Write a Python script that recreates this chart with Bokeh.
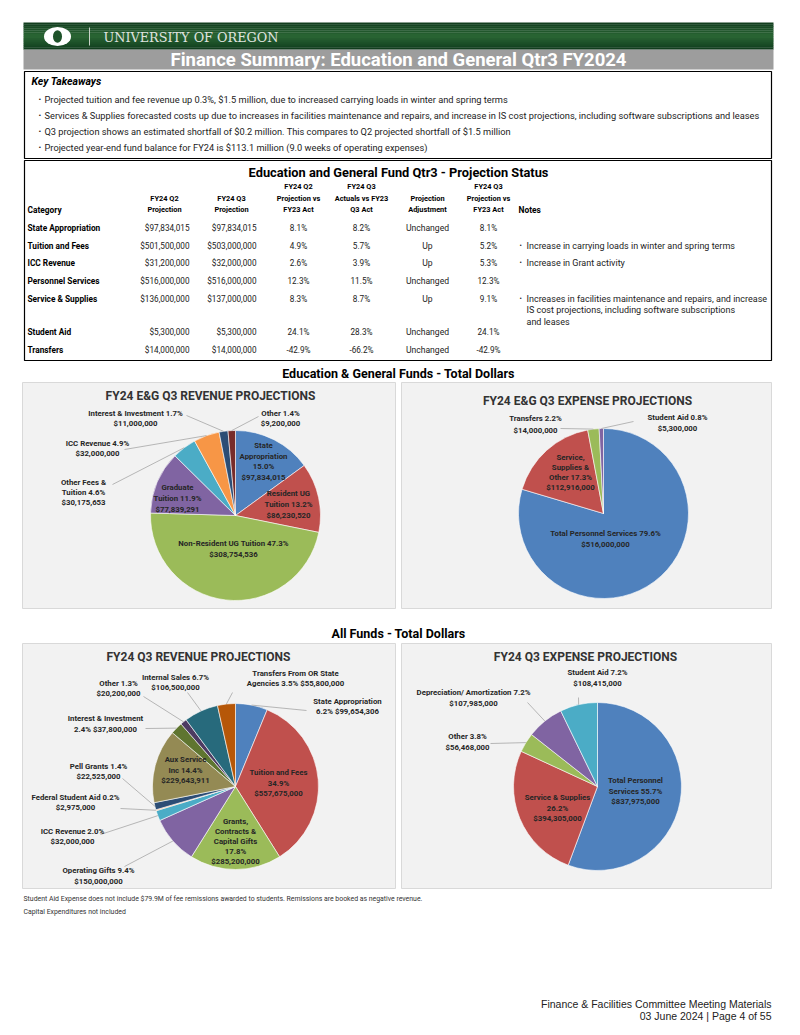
import math
from bokeh.plotting import figure
from bokeh.models import Range1d
from bokeh.core.properties import value
from bokeh.embed import file_html
from bokeh.resources import INLINE

# ------------------------------------------------------------------ data
page_title = "Finance Summary: Education and General Qtr3 FY2024"
takeaways = [
    "Projected tuition and fee revenue up 0.3%, $1.5 million, due to increased carrying loads in winter and spring terms",
    "Services & Supplies forecasted costs up due to increases in facilities maintenance and repairs, and increase in IS cost projections, including software subscriptions and leases",
    "Q3 projection shows an estimated shortfall of $0.2 million. This compares to Q2 projected shortfall of $1.5 million",
    "Projected year-end fund balance for FY24 is $113.1 million (9.0 weeks of operating expenses)",
]

table_title = "Education and General Fund Qtr3 - Projection Status"
table_headers = [
    ["Category"],
    ["FY24 Q2", "Projection"],
    ["FY24 Q3", "Projection"],
    ["FY24 Q2", "Projection vs", "FY23 Act"],
    ["FY24 Q3", "Actuals vs FY23", "Q3 Act"],
    ["Projection", "Adjustment"],
    ["FY24 Q3", "Projection vs", "FY23 Act"],
    ["Notes"],
]
categories = ["State Appropriation", "Tuition and Fees", "ICC Revenue", "Personnel Services",
              "Service & Supplies", "Student Aid", "Transfers"]
q2_projection = [97834015, 501500000, 31200000, 516000000, 136000000, 5300000, 14000000]
q3_projection = [97834015, 503000000, 32000000, 516000000, 137000000, 5300000, 14000000]
q2_vs_fy23 = [8.1, 4.9, 2.6, 12.3, 8.3, 24.1, -42.9]
q3_act_vs_fy23 = [8.2, 5.7, 3.9, 11.5, 8.7, 28.3, -66.2]
adjustment = ["Unchanged", "Up", "Up", "Unchanged", "Up", "Unchanged", "Unchanged"]
q3_vs_fy23 = [8.1, 5.2, 5.3, 12.3, 9.1, 24.1, -42.9]
notes = [
    [],
    ["Increase in carrying loads in winter and spring terms"],
    ["Increase in Grant activity"],
    [],
    ["Increases in facilities maintenance and repairs, and increase",
     "IS cost projections, including software subscriptions",
     "and leases"],
    [],
    [],
]

section_eg = "Education & General Funds - Total Dollars"
section_all = "All Funds - Total Dollars"

# E&G revenue pie
eg_rev_title = "FY24 E&G Q3 REVENUE PROJECTIONS"
eg_rev_values = [97834015, 86230520, 308754536, 77839291, 30175653, 32000000, 11000000, 9200000]
eg_rev_pct = [15.0, 13.2, 47.3, 11.9, 4.6, 4.9, 1.7, 1.4]
eg_rev_labels = [
    ["State", "Appropriation", "{p}", "{v}"],
    ["Resident UG", "Tuition {p}", "{v}"],
    ["Non-Resident UG Tuition {p}", "{v}"],
    ["Graduate", "Tuition {p}", "{v}"],
    ["Other Fees &", "Tuition {p}", "{v}"],
    ["ICC Revenue {p}", "{v}"],
    ["Interest & Investment {p}", "{v}"],
    ["Other {p}", "{v}"],
]

# E&G expense pie
eg_exp_title = "FY24 E&G Q3 EXPENSE PROJECTIONS"
eg_exp_values = [516000000, 112916000, 14000000, 5300000]
eg_exp_pct = [79.6, 17.3, 2.2, 0.8]
eg_exp_labels = [
    ["Total Personnel Services {p}", "{v}"],
    ["Service,", "Supplies &", "Other {p}", "{v}"],
    ["Transfers {p}", "{v}"],
    ["Student Aid {p}", "{v}"],
]

# All funds revenue pie
all_rev_title = "FY24 Q3 REVENUE PROJECTIONS"
all_rev_values = [99654306, 557675000, 285200000, 150000000, 32000000, 2975000, 22525000,
                  229643911, 37800000, 20200000, 106500000, 55800000]
all_rev_pct = [6.2, 34.9, 17.8, 9.4, 2.0, 0.2, 1.4, 14.4, 2.4, 1.3, 6.7, 3.5]
all_rev_labels = [
    ["State Appropriation", "{p} {v}"],
    ["Tuition and Fees", "{p}", "{v}"],
    ["Grants,", "Contracts &", "Capital Gifts", "{p}", "{v}"],
    ["Operating Gifts {p}", "{v}"],
    ["ICC Revenue {p}", "{v}"],
    ["Federal Student Aid {p}", "{v}"],
    ["Pell Grants {p}", "{v}"],
    ["Aux Service", "Inc {p}", "{v}"],
    ["Interest & Investment", "{p} {v}"],
    ["Other {p}", "{v}"],
    ["Internal Sales {p}", "{v}"],
    ["Transfers From OR State", "Agencies {p} {v}"],
]

# All funds expense pie
all_exp_title = "FY24 Q3 EXPENSE PROJECTIONS"
all_exp_values = [837975000, 394305000, 56468000, 107985000, 108415000]
all_exp_pct = [55.7, 26.2, 3.8, 7.2, 7.2]
all_exp_labels = [
    ["Total Personnel", "Services {p}", "{v}"],
    ["Service & Supplies", "{p}", "{v}"],
    ["Other {p}", "{v}"],
    ["Depreciation/ Amortization {p}", "{v}"],
    ["Student Aid {p}", "{v}"],
]

footnotes = [
    "Student Aid Expense does not include $79.9M of fee remissions awarded to students. Remissions are booked as negative revenue.",
    "Capital Expenditures not included",
]
footer = ["Finance & Facilities Committee Meeting Materials", "03 June 2024 | Page 4 of 55"]

# ------------------------------------------------------------------ styles / layout
PAGE_H = 1035
W, H = 784, 1027
FONT = "Roboto"
DARK = "#262626"
LEADER = "#A6A6A6"

COL6 = ["#4F81BD", "#C0504D", "#9BBB59", "#8064A2", "#4BACC6", "#F79646"]
eg_rev_colors = COL6 + ["#2C4D75", "#772C2A"]
eg_exp_colors = COL6[:4]
all_rev_colors = COL6 + ["#2C4D75", "#948A54", "#5F7530", "#4D3B62", "#276A7C", "#B65708"]
all_exp_colors = COL6[:5]

# label layout: (x, y of first line, line height, leader start or None)
eg_rev_layout = [
    (263, 445, 10.7, None), (288, 493, 11, None), (233, 543, 10.5, None), (177, 487, 11, None),
    (83, 482, 10, (112, 484)), (97, 443, 10, (124, 449)), (135, 413, 10, (186, 415)),
    (280, 413, 10, (258, 416)),
]
eg_exp_layout = [
    (605, 533, 10.5, None), (570, 457, 10, None), (535, 418, 12, (560, 428)),
    (677, 417, 10.5, (633, 421)),
]
all_rev_layout = [
    (347, 701, 10, (306, 710)), (278, 772, 10.5, None), (235, 821, 10, None),
    (98, 870, 11, (124, 866)), (72, 831, 10, (100, 834)), (75, 797, 10, (120, 808)),
    (98, 766, 10, (122, 778)), (185, 759, 10.5, None), (105, 718, 11, (145, 728)),
    (118, 683, 10, (143, 696)), (175, 677, 10, (187, 692)), (295, 673, 10, (232, 692)),
]
all_exp_layout = [
    (635, 780, 10.5, None), (557, 797, 10.5, None), (467, 736, 11, (490, 743)),
    (473, 692, 11, (527, 702)), (597, 672, 11, (578, 697)),
]


def Y(py):
    return PAGE_H - py


p = figure(width=W, height=H, x_range=Range1d(0, W), y_range=Range1d(PAGE_H - H, PAGE_H),
           x_axis_type=None, y_axis_type=None, toolbar_location=None, output_backend="svg",
           min_border=0, outline_line_color=None, background_fill_color="white",
           border_fill_color="white")
p.xgrid.visible = False
p.ygrid.visible = False

texts = {}


def T(x, y, s, size=8.0, style="normal", align="left", color="#000000", font=FONT):
    key = (size, style, align, color, font)
    d = texts.setdefault(key, dict(x=[], y=[], t=[]))
    d["x"].append(x)
    d["y"].append(Y(y))
    d["t"].append(s)


def box(l, r, t, b, fill=None, line=None, lw=1.0):
    p.quad(left=[l], right=[r], top=[Y(t)], bottom=[Y(b)],
           fill_color=fill if fill else None, fill_alpha=1 if fill else 0,
           line_color=line, line_width=lw)


# ------------------------------------------------------------------ header
def mix(c1, c2, t):
    a = [int(c1[i:i + 2], 16) for i in (1, 3, 5)]
    b = [int(c2[i:i + 2], 16) for i in (1, 3, 5)]
    return "#%02x%02x%02x" % tuple(int(round(a[k] + (b[k] - a[k]) * t)) for k in range(3))


g_top, g_bot, n_band = 22.0, 49.0, 14
for i in range(n_band):
    t = i / (n_band - 1)
    c = mix("#0f3a1c", "#2a6634", 1 - abs(2 * t - 1) * 0.9)
    y0 = g_top + (g_bot - g_top) * i / n_band
    y1 = g_top + (g_bot - g_top) * (i + 1) / n_band
    p.quad(left=[23], right=[773], top=[Y(y0)], bottom=[Y(y1) - 0.3], fill_color=c, line_color=None)

p.ellipse(x=[57], y=[Y(36)], width=[27], height=[19], fill_color="white", line_color=None)
p.ellipse(x=[57], y=[Y(36)], width=[9], height=[12.5], fill_color="#1d5229", line_color=None)
p.segment(x0=[89], y0=[Y(27)], x1=[89], y1=[Y(45)], line_color="#c8d2c8", line_width=1)
T(103, 36.5, "UNIVERSITY OF OREGON", 12.8, "normal", "left", "#e0e4e0", "DejaVu Serif")

box(23, 773, 49, 69, fill="#9d9d9d")
T(398, 59.5, page_title, 18.5, "bold", "center", "white")

# ------------------------------------------------------------------ key takeaways
box(24, 771, 71, 158, line="#000000", lw=1.2)
T(31, 80.5, "Key Takeaways", 10.5, "bold italic", "left", "#000000")
for i, s in enumerate(takeaways):
    yy = 99 + 16 * i
    T(38, yy, "\u2022", 8, "normal", "left", "#222222")
    T(44, yy, s, 9.25, "normal", "left", "#222222")

# ------------------------------------------------------------------ table
box(24, 771, 160, 360, line="#000000", lw=1.2)
T(398, 172, table_title, 12.8, "bold", "center", "#000000")
col_x = [27, 164, 231, 298, 361, 427, 488, 518]
col_align = ["left", "center", "center", "center", "center", "center", "center", "left"]
for c, lines in enumerate(table_headers):
    n = len(lines)
    for k, s in enumerate(lines):
        yy = 209 - (n - 1 - k) * 11.5
        sz = 8.4 if c in (0, 7) else 7.4
        T(col_x[c], yy, s, sz, "bold", col_align[c], "#000000")

row_y = [227, 245, 262, 280, 298, 331, 349]


def pct(v):
    return f"{v:.1f}%"


for r, cat in enumerate(categories):
    yy = row_y[r]
    T(27, yy, cat, 8.3, "bold", "left", "#000000")
    T(189, yy, f"${q2_projection[r]:,.0f}", 8.2, "normal", "right", "#222222")
    T(256, yy, f"${q3_projection[r]:,.0f}", 8.2, "normal", "right", "#222222")
    T(298, yy, pct(q2_vs_fy23[r]), 8.2, "normal", "center", "#222222")
    T(361, yy, pct(q3_act_vs_fy23[r]), 8.2, "normal", "center", "#222222")
    T(427, yy, adjustment[r], 8.6, "normal", "center", "#222222")
    T(488, yy, pct(q3_vs_fy23[r]), 8.2, "normal", "center", "#222222")
    for k, s in enumerate(notes[r]):
        if k == 0:
            T(519, yy, "\u2022", 7, "normal", "left", "#222222")
        T(526, yy + k * 11.5, s, 9.0, "normal", "left", "#222222")

# ------------------------------------------------------------------ pies
T(398, 373, section_eg, 12.5, "bold", "center", "#000000")
T(398, 633, section_all, 12.5, "bold", "center", "#000000")

box(22, 395, 382, 608, fill="#F2F2F2", line="#D9D9D9")
box(401, 771, 382, 608, fill="#F2F2F2", line="#D9D9D9")
box(22, 395, 643, 888, fill="#F2F2F2", line="#D9D9D9")
box(401, 771, 643, 888, fill="#F2F2F2", line="#D9D9D9")


def fmt_money(v):
    return f"${v:,.0f}"


def pie(cx, cy, r, values, pcts, colors, labels, layout, title, title_xy):
    total = float(sum(values))
    cum = [0.0]
    for v in values:
        cum.append(cum[-1] + v / total)
    starts = [math.pi / 2 - 2 * math.pi * cum[i + 1] for i in range(len(values))]
    ends = [math.pi / 2 - 2 * math.pi * cum[i] for i in range(len(values))]
    p.wedge(x=[cx] * len(values), y=[Y(cy)] * len(values), radius=r,
            start_angle=starts, end_angle=ends, direction="anticlock",
            fill_color=colors, line_color="white", line_width=0.6)
    T(title_xy[0], title_xy[1], title, 12, "bold", "center", "#333333")
    lx0, ly0, lx1, ly1 = [], [], [], []
    for i, lines in enumerate(labels):
        x, y, lh, lead = layout[i]
        for k, s in enumerate(lines):
            s = s.replace("{p}", pct(pcts[i])).replace("{v}", fmt_money(values[i]))
            T(x, y + k * lh, s, 7.8, "bold", "center", DARK)
        if lead is not None:
            mid = (cum[i] + cum[i + 1]) / 2 * 2 * math.pi
            ex = cx + r * math.sin(mid)
            ey = cy - r * math.cos(mid)
            lx0.append(lead[0]); ly0.append(Y(lead[1]))
            lx1.append(ex); ly1.append(Y(ey))
    if lx0:
        p.segment(x0=lx0, y0=ly0, x1=lx1, y1=ly1, line_color=LEADER, line_width=0.8)


pie(235, 515, 85, eg_rev_values, eg_rev_pct, eg_rev_colors, eg_rev_labels, eg_rev_layout,
    eg_rev_title, (210, 395))
pie(603, 513, 85, eg_exp_values, eg_exp_pct, eg_exp_colors, eg_exp_labels, eg_exp_layout,
    eg_exp_title, (587, 400))
pie(235, 786, 83, all_rev_values, all_rev_pct, all_rev_colors, all_rev_labels, all_rev_layout,
    all_rev_title, (198, 656))
pie(597, 786, 84, all_exp_values, all_exp_pct, all_exp_colors, all_exp_labels, all_exp_layout,
    all_exp_title, (585, 656))

# ------------------------------------------------------------------ footnotes / footer
T(23, 898, footnotes[0], 6.9, "normal", "left", "#333333")
T(23, 911, footnotes[1], 6.9, "normal", "left", "#333333")
T(771, 1003, footer[0], 10.5, "normal", "right", "#222222", "Liberation Sans")
T(771, 1015, footer[1], 10.5, "normal", "right", "#222222", "Liberation Sans")

for (size, style, align, color, font), d in texts.items():
    p.text(x=d["x"], y=d["y"], text=d["t"], text_font=value(font), text_font_size=f"{size}px",
           text_font_style=style, text_align=align, text_baseline="middle", text_color=color)

open("out.html", "w").write(file_html(p, INLINE))
